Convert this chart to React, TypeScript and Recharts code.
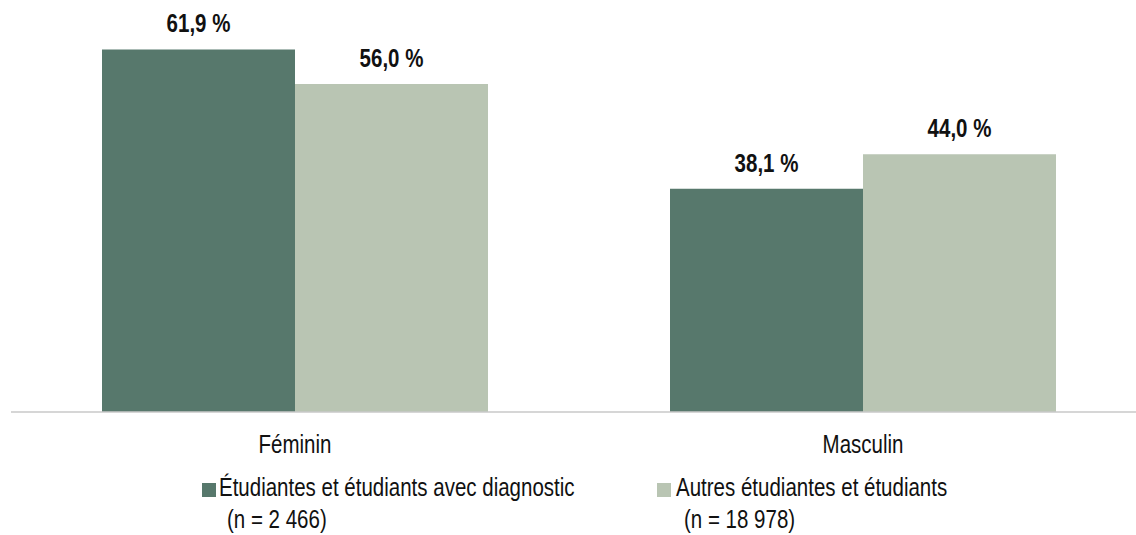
import React from "react";
import { BarChart, Bar, XAxis, YAxis, LabelList, Customized } from "recharts";

const categories = ["Féminin", "Masculin"];
const diagnosticValues = [61.9, 38.1];
const autresValues = [56.0, 44.0];
const seriesNames = ["Étudiantes et étudiants avec diagnostic", "Autres étudiantes et étudiants"];
const seriesCounts = ["(n = 2 466)", "(n = 18 978)"];
const yDomain = [0, 70];

const COLORS = ["#57786c", "#b9c5b3"];
const FONT = "'Liberation Sans', Arial, sans-serif";
const NARROW = 0.82;

const data = categories.map((c, i) => ({
  category: c,
  diag: diagnosticValues[i],
  autres: autresValues[i],
}));

const fmt = (v: number) => v.toFixed(1).replace(".", ",") + " %";

const NarrowText = ({ x, y, anchor = "start", bold = false, size = 25, children }: any) => (
  <text
    transform={`translate(${x} ${y}) scale(${NARROW} 1)`}
    x={0}
    y={0}
    textAnchor={anchor}
    fontFamily={FONT}
    fontWeight={bold ? "bold" : "normal"}
    fontSize={size}
    fill="#111"
  >
    {children}
  </text>
);

const ValueLabel = (props: any) => {
  const { x, y, width, value } = props;
  return (
    <NarrowText x={Number(x) + Number(width) / 2} y={Number(y) - 17} anchor="middle" bold>
      {fmt(Number(value))}
    </NarrowText>
  );
};

const CatTick = (props: any) => {
  const { x, y, payload } = props;
  return (
    <NarrowText x={x} y={Number(y) + 41} anchor="middle">
      {payload.value}
    </NarrowText>
  );
};

const legendPos = [
  { sx: 202, tx: 219 },
  { sx: 657, tx: 676 },
];

const LegendLayer = () => (
  <g>
    {seriesNames.map((name, i) => (
      <g key={name}>
        <rect x={legendPos[i].sx} y={483} width={14} height={14} fill={COLORS[i]} />
        <NarrowText x={legendPos[i].tx} y={496}>
          {name}
        </NarrowText>
        <NarrowText x={legendPos[i].tx + 8} y={528}>
          {seriesCounts[i]}
        </NarrowText>
      </g>
    ))}
  </g>
);

export default function App() {
  return (
    <div
      style={{
        position: "fixed",
        top: 0,
        left: 0,
        width: 1136,
        height: 535,
        overflow: "hidden",
        background: "#fff",
      }}
    >
      <BarChart
        width={1148}
        height={535}
        data={data}
        margin={{ top: 2, right: 1, bottom: 0, left: 11 }}
        barGap={0}
        barCategoryGap={91}
      >
        <YAxis hide domain={yDomain} />
        <XAxis
          dataKey="category"
          height={123}
          axisLine={{ stroke: "#c8c8c8", strokeWidth: 1.5 }}
          tickLine={false}
          tickSize={0}
          tickMargin={0}
          tick={<CatTick />}
          interval={0}
        />
        <Bar dataKey="diag" name={seriesNames[0]} fill={COLORS[0]} isAnimationActive={false}>
          <LabelList dataKey="diag" content={<ValueLabel />} />
        </Bar>
        <Bar dataKey="autres" name={seriesNames[1]} fill={COLORS[1]} isAnimationActive={false}>
          <LabelList dataKey="autres" content={<ValueLabel />} />
        </Bar>
        <Customized component={LegendLayer} />
      </BarChart>
    </div>
  );
}
